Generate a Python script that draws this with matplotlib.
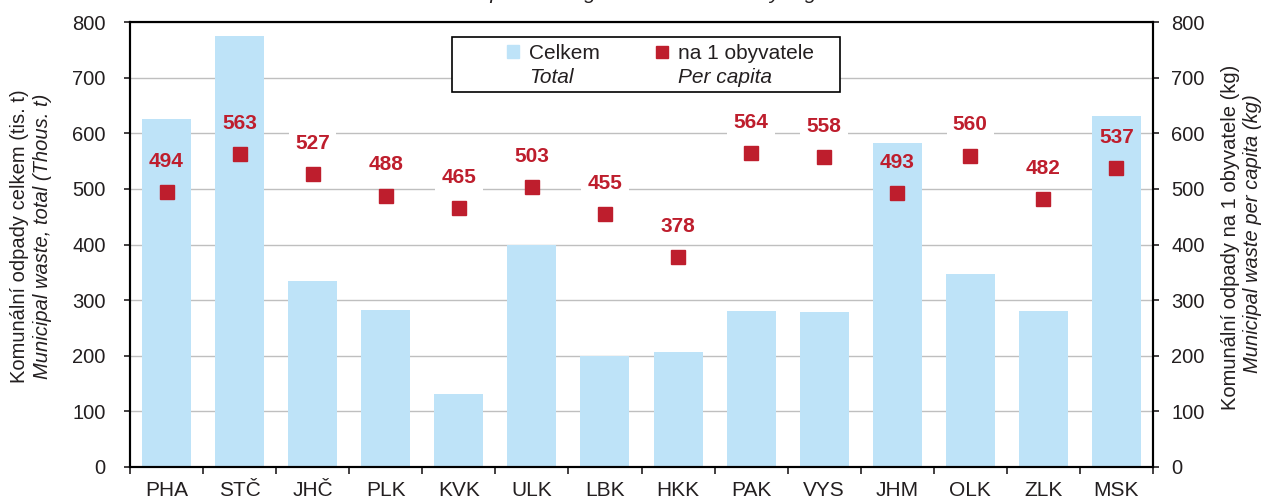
import numpy as np
import matplotlib
matplotlib.use("Agg")
import matplotlib.pyplot as plt
from matplotlib.lines import Line2D
from matplotlib.patches import Patch, Rectangle

plt.rcParams['font.family'] = ['Liberation Sans', 'DejaVu Sans']
plt.rcParams['text.color'] = '#231F20'
plt.rcParams['xtick.color'] = '#231F20'
plt.rcParams['ytick.color'] = '#231F20'

# regions (NUTS3 codes)
regions = ["PHA", "STČ", "JHČ", "PLK", "KVK", "ULK", "LBK",
           "HKK", "PAK", "VYS", "JHM", "OLK", "ZLK", "MSK"]
# municipal waste total, thous. t
total = [625, 774, 335, 282, 132, 400, 200, 206, 280, 279, 582, 347, 280, 631]
# municipal waste per capita, kg
per_capita = [494, 563, 527, 488, 465, 503, 455, 378, 564, 558, 493, 560, 482, 537]

BAR_COLOR = '#BEE3F8'
RED = '#BE1E2D'
GRID = '#BFBFBF'

fig = plt.figure(figsize=(12.67, 5.0), dpi=100)
ax = fig.add_axes([130 / 1267, 1 - 467 / 500, 1023 / 1267, 445 / 500])
ax2 = ax.twinx()

x = np.arange(len(regions))
ax.bar(x, total, width=0.67, color=BAR_COLOR, zorder=2)
ax.set_axisbelow(True)
ax.yaxis.grid(True, color=GRID, linewidth=1)

ax2.plot(x, per_capita, linestyle='none', marker='s', markersize=10,
         color=RED, zorder=3)
for xi, v in zip(x, per_capita):
    # white box behind the label hides the gridline but not the bar
    ax.annotate(f"{v}", (xi, v), xytext=(0, 22), textcoords='offset points',
                ha='center', va='center', fontsize=15, fontweight='bold',
                color='none', zorder=1,
                bbox=dict(boxstyle='square,pad=0.3', fc='white', ec='none'))
    ax2.annotate(f"{v}", (xi, v), xytext=(0, 22), textcoords='offset points',
                 ha='center', va='center', fontsize=15, fontweight='bold',
                 color=RED, zorder=4)

for a in (ax, ax2):
    a.set_ylim(0, 800)
    a.set_yticks(np.arange(0, 801, 100))
    for s in a.spines.values():
        s.set_color('black')
        s.set_linewidth(1.5)
ax.tick_params(axis='y', direction='out', length=4.5, width=1.2,
               labelsize=14.5, pad=13)
ax2.tick_params(axis='y', direction='out', length=4.5, width=1.2,
                labelsize=14.5, pad=8.5)

ax.set_xlim(-0.5, len(regions) - 0.5)
ax.set_xticks(x)
ax.set_xticklabels(regions, fontsize=15)
ax.set_xticks(np.arange(-0.5, len(regions)), minor=True)
ax.tick_params(axis='x', which='major', length=0, pad=10)
ax.tick_params(axis='x', which='minor', direction='out', length=5, width=1.2)

# legend frame drawn separately (content sits off-centre in it)
frame = Rectangle((0.3148, 0.843), 0.3793, 0.123, transform=ax2.transAxes,
                  facecolor='white', edgecolor='black', linewidth=1.2,
                  zorder=9)
ax2.add_patch(frame)

# legend: two columns, Czech label on top, English italic below
handles = [Patch(color=BAR_COLOR), Line2D([], [], linestyle='none'),
           Line2D([], [], linestyle='none', marker='s', markersize=8, color=RED),
           Line2D([], [], linestyle='none')]
labels = ["Celkem", "Total", "na 1 obyvatele", "Per capita"]
leg = ax2.legend(handles, labels, ncol=2, loc='center',
                 bbox_to_anchor=(0.519, 0.902), fontsize=15, frameon=False,
                 handlelength=0.55, handleheight=0.55, handletextpad=0.5,
                 columnspacing=2.7, labelspacing=0.25, borderpad=0.0)
leg.set_zorder(10)
for t in (leg.get_texts()[1], leg.get_texts()[3]):
    t.set_style('italic')

# axis titles (two lines, English in italics)
fig.text(20 / 1267, 1 - 236 / 500, "Komunální odpady celkem (tis. t)",
         rotation=90, ha='center', va='center', fontsize=14.5)
fig.text(43 / 1267, 1 - 236 / 500, "Municipal waste, total (Thous. t)",
         rotation=90, ha='center', va='center', fontsize=14.5, style='italic')
fig.text(1230 / 1267, 1 - 237 / 500, "Komunální odpady na 1 obyvatele (kg)",
         rotation=90, ha='center', va='center', fontsize=14.5)
fig.text(1253 / 1267, 1 - 234 / 500, "Municipal waste per capita (kg)",
         rotation=90, ha='center', va='center', fontsize=14.5, style='italic')

# chart title, mostly cut off at the top edge
fig.text(0.507, 1 + 1.5 / 500, "Municipal waste generated in 2022 by regions",
         ha='center', va='baseline', fontsize=15, style='italic')

fig.savefig("out.png", dpi=100)
